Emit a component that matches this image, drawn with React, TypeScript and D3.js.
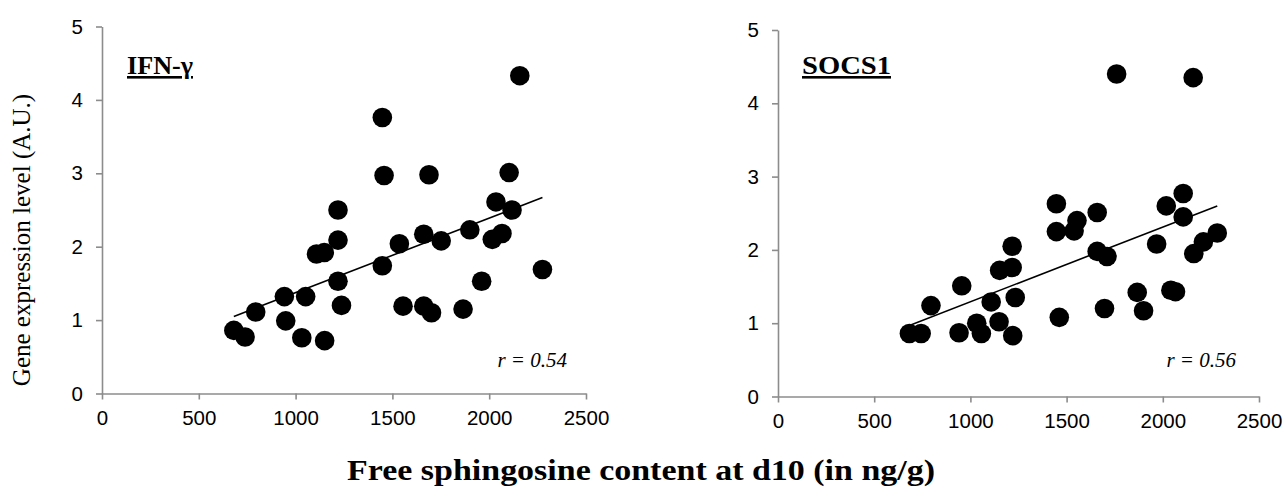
import React, { useEffect, useRef } from "react";
import * as d3 from "d3";

// free sphingosine (ng/g) vs gene expression (A.U.)
const ifngX = [681, 739, 794, 942, 949, 1032, 1052, 1108, 1148, 1150, 1219, 1219, 1219, 1237, 1448, 1448, 1457, 1536, 1555, 1662, 1662, 1689, 1702, 1752, 1865, 1900, 1961, 2016, 2035, 2066, 2103, 2118, 2158, 2275];
const ifngY = [0.86, 0.77, 1.11, 1.32, 0.99, 0.76, 1.32, 1.9, 1.92, 0.72, 2.5, 2.09, 1.53, 1.2, 3.76, 1.74, 2.97, 2.04, 1.19, 2.17, 1.19, 2.98, 1.1, 2.08, 1.15, 2.23, 1.53, 2.1, 2.61, 2.18, 3.01, 2.5, 4.33, 1.69];
const ifngTrend = [[681, 1.05], [2275, 2.67]];

const socsX = [683, 744, 795, 941, 955, 1033, 1057, 1108, 1149, 1152, 1217, 1217, 1220, 1233, 1447, 1447, 1462, 1539, 1554, 1659, 1659, 1710, 1697, 1760, 1867, 1900, 1968, 2018, 2042, 2066, 2106, 2106, 2158, 2161, 2211, 2283];
const socsY = [0.86, 0.86, 1.24, 0.87, 1.51, 1.0, 0.86, 1.29, 1.02, 1.72, 1.76, 2.05, 0.83, 1.35, 2.63, 2.25, 1.08, 2.26, 2.4, 2.51, 1.98, 1.91, 1.2, 4.4, 1.42, 1.17, 2.08, 2.6, 1.45, 1.43, 2.77, 2.45, 4.35, 1.95, 2.11, 2.23];
const socsTrend = [[683, 0.97], [2283, 2.6]];

const xTicks = [0, 500, 1000, 1500, 2000, 2500];
const yTicks = [0, 1, 2, 3, 4, 5];

const serif = "Liberation Serif, Times New Roman, serif";

const App = () => {
  const svgRef = useRef(null);

  useEffect(() => {
    const svg = d3.select(svgRef.current);
    svg.selectAll("*").remove();

    const panels = [
      { xs: ifngX, ys: ifngY, trend: ifngTrend, name: "IFN-γ", nameW: 66, r: "r = 0.54", left: 102, right: 586, bottom: 393.5, top: 26.5, nameX: 127, rX: 567 },
      { xs: socsX, ys: socsY, trend: socsTrend, name: "SOCS1", nameW: 89, r: "r = 0.56", left: 778, right: 1259, bottom: 396.5, top: 30, nameX: 802, rX: 1236 },
    ];

    panels.forEach((p) => {
      const x = d3.scaleLinear().domain([0, 2500]).range([p.left, p.right]);
      const y = d3.scaleLinear().domain([0, 5]).range([p.bottom, p.top]);
      const g = svg.append("g");

      // axes
      const xAxis = g
        .append("g")
        .attr("transform", `translate(0,${p.bottom})`)
        .call(d3.axisBottom(x).tickValues(xTicks).tickFormat(d3.format("d")).tickSize(6).tickSizeOuter(0).tickPadding(11));
      const yAxis = g
        .append("g")
        .attr("transform", `translate(${p.left},0)`)
        .call(d3.axisLeft(y).tickValues(yTicks).tickFormat(d3.format("d")).tickSize(6).tickSizeOuter(0).tickPadding(13));

      [xAxis, yAxis].forEach((a) => {
        a.selectAll("path, line").attr("stroke", "#8c8c8c").attr("stroke-width", 1.6);
        a.selectAll("text")
          .attr("fill", "#000")
          .attr("font-family", "Liberation Sans, Arial, sans-serif")
          .attr("font-size", 20.5);
      });

      // points
      g.selectAll("circle")
        .data(p.xs.map((v, i) => [v, p.ys[i]]))
        .join("circle")
        .attr("cx", (d) => x(d[0]))
        .attr("cy", (d) => y(d[1]))
        .attr("r", 9.8)
        .attr("fill", "#000");

      // trend line
      g.append("path")
        .datum(p.trend)
        .attr("fill", "none")
        .attr("stroke", "#000")
        .attr("stroke-width", 1.6)
        .attr("d", d3.line().x((d) => x(d[0])).y((d) => y(d[1])));

      // gene name
      g.append("text")
        .attr("x", p.nameX)
        .attr("y", 74)
        .attr("font-family", serif)
        .attr("font-weight", "bold")
        .attr("font-size", 26)
        .attr("text-decoration", "underline")
        .attr("textLength", p.nameW)
        .attr("lengthAdjust", "spacingAndGlyphs")
        .text(p.name);

      g.append("text")
        .attr("x", p.rX)
        .attr("y", 367)
        .attr("text-anchor", "end")
        .attr("font-family", serif)
        .attr("font-style", "italic")
        .attr("font-size", 21)
        .text(p.r);
    });

    svg.append("text")
      .attr("transform", "translate(30,240) rotate(-90)")
      .attr("text-anchor", "middle")
      .attr("font-family", serif)
      .attr("font-size", 25)
      .text("Gene expression level (A.U.)");

    svg.append("text")
      .attr("x", 641)
      .attr("y", 480)
      .attr("text-anchor", "middle")
      .attr("font-family", serif)
      .attr("font-weight", "bold")
      .attr("font-size", 30)
      .attr("textLength", 588)
      .attr("lengthAdjust", "spacingAndGlyphs")
      .text("Free sphingosine content at d10 (in ng/g)");
  }, []);

  return (
    <svg
      ref={svgRef}
      width="1285"
      height="495"
      style={{ position: "absolute", left: 0, top: 0, background: "#fff" }}
    ></svg>
  );
};

export default App;
